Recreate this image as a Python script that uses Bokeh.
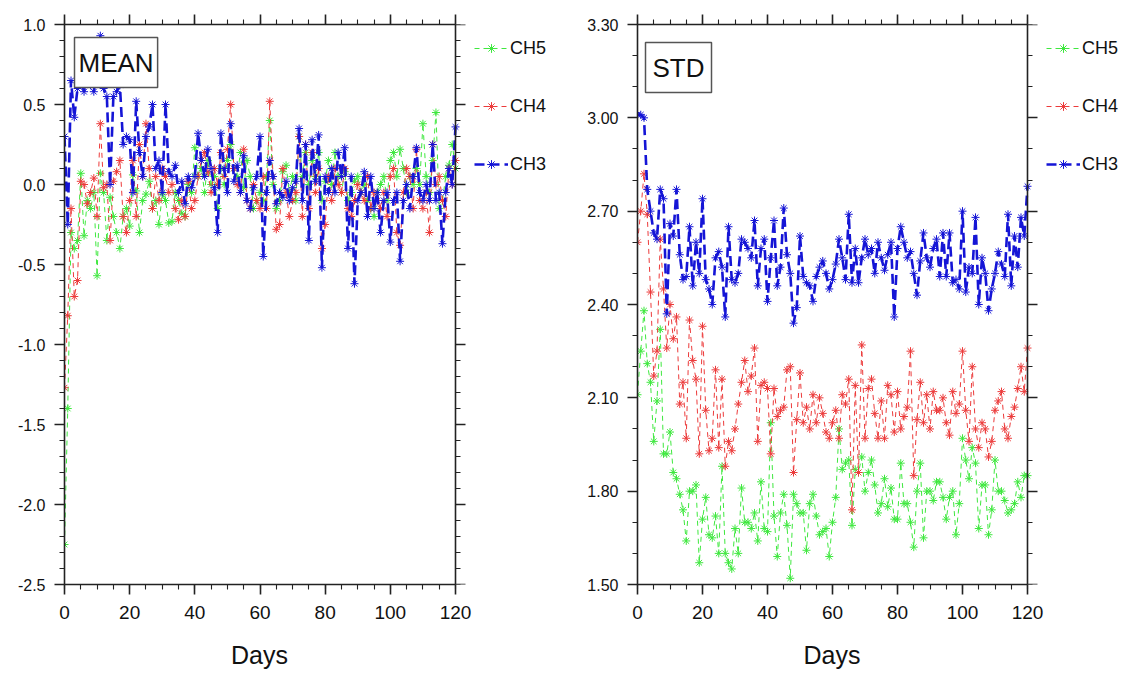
from bokeh.plotting import figure
from bokeh.models import (LinearAxis, SingleIntervalTicker, NumeralTickFormatter,
                          Legend, LegendItem, Label, Range1d, CustomLabelingPolicy, Title)
from bokeh.layouts import row
from bokeh.embed import file_html
from bokeh.resources import INLINE

days = list(range(121))

mean_ch5 = [-2.25, -1.40, -0.30, -0.40, -0.35, 0.07, -0.32, -0.10, -0.15, -0.05, -0.57,
            0.07, -0.05, -0.35, -0.08, -0.20, -0.30, -0.40, -0.20, -0.15, -0.26,
            0.06, -0.04, -0.30, -0.10, -0.06, 0.02, -0.15, -0.10, -0.25, -0.06,
            -0.10, -0.24, -0.23, -0.05, -0.10, -0.18, -0.20, 0.00, -0.05, 0.23,
            0.05, 0.10, -0.05, 0.15, 0.00, 0.05, -0.15, 0.10, 0.00, 0.15,
            0.25, 0.10, 0.05, 0.20, -0.02, 0.15, 0.05, -0.15, -0.10, -0.05,
            -0.10, 0.05, 0.40, 0.00, -0.15, -0.10, 0.08, 0.12, -0.05, 0.05,
            -0.10, 0.30, 0.05, 0.20, 0.00, 0.15, 0.05, 0.20, -0.10, 0.02,
            0.15, 0.00, 0.20, 0.05, -0.05, 0.08, -0.10, -0.05, 0.02, 0.05,
            -0.05, 0.00, -0.10, -0.15, -0.20, -0.05, 0.00, 0.05, -0.10, 0.15,
            0.20, 0.05, 0.22, 0.10, -0.05, 0.05, 0.00, 0.10, 0.00, 0.38,
            0.05, -0.05, 0.15, 0.45, -0.15, -0.10, 0.05, 0.12, 0.25, 0.10]

mean_ch4 = [-1.27, -0.82, -0.15, -0.70, -0.60, 0.02, 0.00, -0.12, -0.05, 0.04, -0.20,
            0.38, -0.02, 0.00, -0.35, 0.02, 0.08, 0.15, -0.20, -0.30, -0.10,
            0.15, -0.20, 0.25, 0.05, 0.38, 0.10, -0.15, 0.05, -0.10, 0.10,
            0.05, -0.05, 0.00, -0.15, -0.22, -0.10, -0.20, 0.02, -0.15, -0.10,
            0.05, 0.15, 0.20, 0.08, -0.05, 0.10, 0.00, 0.20, 0.05, 0.22,
            0.50, 0.10, 0.00, -0.05, 0.22, -0.10, -0.15, 0.00, -0.10, -0.15,
            0.05, -0.15, 0.52, 0.05, -0.28, -0.25, 0.10, -0.05, -0.20, -0.10,
            -0.05, 0.30, -0.20, 0.25, -0.15, 0.20, -0.05, 0.10, -0.40, -0.25,
            0.05, -0.10, 0.10, 0.00, -0.05, 0.10, -0.15, -0.20, -0.10, 0.00,
            -0.05, -0.10, 0.05, -0.15, -0.05, -0.10, -0.15, -0.05, -0.20, 0.05,
            0.10, -0.30, -0.38, -0.05, 0.10, 0.05, -0.15, 0.22, -0.10, -0.15,
            -0.05, -0.30, 0.25, 0.00, 0.05, -0.10, -0.20, 0.10, 0.00, 0.15]

mean_ch3 = [0.30, -0.25, 0.65, 0.42, 0.60, 0.66, 0.58, 0.70, 0.62, 0.58, 0.74,
            0.93, 0.60, 0.55, 0.00, 0.55, 0.58, 0.62, 0.25, 0.30, 0.28,
            -0.05, 0.52, 0.20, 0.05, 0.30, 0.36, 0.50, 0.10, 0.15, -0.05,
            0.50, 0.08, 0.05, 0.12, -0.05, 0.02, -0.12, 0.05, -0.02, 0.05,
            0.32, 0.15, 0.05, 0.22, 0.10, -0.02, -0.30, 0.32, 0.10, -0.05,
            0.38, 0.02, 0.12, -0.05, 0.18, -0.10, -0.15, -0.02, 0.05, 0.30,
            -0.45, -0.05, 0.15, 0.05, -0.12, -0.05, -0.08, 0.02, -0.10, -0.02,
            0.02, 0.35, -0.10, 0.25, -0.35, 0.28, 0.02, 0.31, -0.52, 0.05,
            -0.05, 0.10, -0.05, 0.20, 0.05, 0.23, -0.40, 0.05, -0.62, -0.10,
            -0.05, 0.08, -0.20, 0.05, -0.15, -0.05, -0.30, -0.10, -0.05, -0.36,
            -0.10, -0.05, -0.48, -0.10, 0.00, -0.15, 0.05, 0.23, -0.05, -0.10,
            0.00, -0.10, 0.25, -0.10, -0.05, -0.37, -0.05, 0.10, 0.00, 0.36]

std_ch5 = [2.11, 2.25, 2.38, 2.21, 2.15, 1.96, 2.09, 2.32, 1.92, 1.92, 1.99,
           1.86, 1.84, 1.79, 1.74, 1.64, 1.80, 1.80, 1.82, 1.57, 1.71,
           1.78, 1.66, 1.65, 1.72, 1.60, 1.88, 1.60, 1.57, 1.55, 1.68,
           1.60, 1.81, 1.70, 1.70, 1.68, 1.73, 1.64, 1.83, 1.68, 1.67,
           2.02, 1.72, 1.59, 1.73, 1.79, 1.69, 1.52, 1.79, 1.76, 1.73,
           1.73, 1.61, 1.76, 1.79, 1.72, 1.66, 1.67, 1.68, 1.59, 1.70,
           1.78, 2.00, 1.87, 1.89, 1.90, 1.69, 1.87, 1.86, 1.91, 1.80,
           1.86, 1.90, 1.82, 1.73, 1.76, 1.84, 1.75, 1.81, 1.71, 1.71,
           1.89, 1.76, 1.76, 1.70, 1.62, 1.80, 1.89, 1.65, 1.80, 1.80,
           1.77, 1.83, 1.83, 1.78, 1.71, 1.78, 1.80, 1.66, 1.76, 1.97,
           1.90, 1.84, 1.94, 1.89, 1.68, 1.82, 1.82, 1.66, 1.74, 1.90,
           1.80, 1.80, 1.77, 1.73, 1.74, 1.76, 1.83, 1.78, 1.85, 1.85]

std_ch4 = [2.60, 2.70, 2.82, 2.69, 2.44, 2.17, 2.25, 2.61, 2.45, 2.26, 2.40,
           2.29, 2.36, 2.08, 2.15, 1.97, 2.35, 2.22, 2.16, 1.92, 2.33,
           2.06, 1.93, 1.97, 2.19, 1.94, 2.16, 1.88, 1.96, 1.93, 2.00,
           2.08, 2.15, 2.22, 2.12, 2.17, 2.26, 1.96, 2.14, 2.15, 2.13,
           1.92, 2.13, 2.04, 2.06, 2.07, 2.19, 2.20, 1.86, 2.03, 2.18,
           2.02, 2.07, 2.00, 2.11, 2.02, 2.10, 2.05, 1.99, 1.97, 2.02,
           2.06, 1.97, 2.11, 2.08, 2.16, 1.74, 2.14, 1.86, 2.27, 1.97,
           2.13, 2.16, 2.05, 1.97, 2.09, 1.97, 2.14, 2.11, 1.99, 2.12,
           2.00, 2.04, 2.07, 2.25, 1.85, 2.03, 2.15, 2.02, 2.11, 2.00,
           2.12, 2.06, 2.06, 2.10, 2.02, 1.98, 2.12, 2.05, 2.08, 2.25,
           2.06, 1.96, 2.20, 2.00, 1.94, 2.02, 2.00, 1.91, 1.96, 2.06,
           2.09, 2.12, 2.00, 1.97, 2.04, 2.07, 2.13, 2.20, 2.12, 2.26]

std_ch3 = [3.01, 3.01, 3.00, 2.77, 2.70, 2.63, 2.61, 2.77, 2.74, 2.37, 2.66,
           2.62, 2.77, 2.56, 2.48, 2.49, 2.65, 2.46, 2.60, 2.50, 2.74,
           2.48, 2.45, 2.40, 2.55, 2.57, 2.52, 2.36, 2.65, 2.48, 2.47,
           2.50, 2.61, 2.60, 2.58, 2.55, 2.67, 2.46, 2.58, 2.61, 2.41,
           2.55, 2.67, 2.46, 2.52, 2.71, 2.56, 2.50, 2.34, 2.39, 2.62,
           2.49, 2.47, 2.46, 2.41, 2.49, 2.52, 2.54, 2.50, 2.45, 2.48,
           2.53, 2.61, 2.55, 2.48, 2.69, 2.47, 2.58, 2.47, 2.55, 2.61,
           2.56, 2.58, 2.50, 2.60, 2.55, 2.51, 2.56, 2.60, 2.36, 2.58,
           2.65, 2.60, 2.55, 2.57, 2.50, 2.43, 2.54, 2.63, 2.55, 2.52,
           2.58, 2.61, 2.49, 2.63, 2.49, 2.63, 2.47, 2.48, 2.45, 2.70,
           2.44, 2.52, 2.50, 2.68, 2.40, 2.55, 2.50, 2.38, 2.45, 2.50,
           2.57, 2.53, 2.49, 2.69, 2.46, 2.62, 2.52, 2.68, 2.62, 2.78]

series_names = ["CH5", "CH4", "CH3"]
x_label = "Days"
X_MIN, X_MAX = 0, 120

FONT = "Liberation Sans"
AX = "#222222"
COLORS = {"CH5": "#3fe83f", "CH4": "#ec3b3b", "CH3": "#1515d6"}
DASH = {"CH5": "5 4", "CH4": "5 4", "CH3": "10 5"}
WIDTH = {"CH5": 1.0, "CH4": 1.0, "CH3": 2.6}

FIG_H = 686
FRAME_H = 560
TOP = 24


def hide_labels(ax):
    ax.major_label_standoff = 0
    ax.major_label_text_font_size = "0px"
    ax.major_label_policy = CustomLabelingPolicy(code="""
        for (let i = 0; i < indices.size; i++) { indices.unset(i) }
        return indices
    """)


def style_axis(ax, interval, minor, labels=True, fmt=None, font_size="16px",
               inward=False, standoff=9):
    ax.ticker = SingleIntervalTicker(interval=interval, num_minor_ticks=minor)
    ax.axis_line_color = AX
    ax.axis_line_width = 1.6
    ax.major_tick_line_color = AX
    ax.major_tick_line_width = 1.6
    ax.minor_tick_line_color = AX
    ax.minor_tick_line_width = 1.1
    if inward:
        ax.major_tick_in, ax.major_tick_out = 10, 0
        ax.minor_tick_in, ax.minor_tick_out = 5, 0
    else:
        ax.major_tick_in, ax.major_tick_out = 0, 10
        ax.minor_tick_in, ax.minor_tick_out = 0, 5
    if fmt is not None:
        ax.formatter = NumeralTickFormatter(format=fmt)
    if labels:
        ax.major_label_text_font = FONT
        ax.major_label_text_font_size = font_size
        ax.major_label_text_color = "#111111"
        ax.major_label_standoff = standoff
    else:
        hide_labels(ax)


def make_panel(title, yr, yint, yminor, yfmt, data, width, plot_w, ml, tx, ty, tpad):
    frame_w = width - ml
    x_end = X_MAX * frame_w / plot_w   # extra room on the right for the legend
    p = figure(width=width, height=FIG_H,
               x_range=Range1d(X_MIN, x_end), y_range=Range1d(*yr),
               x_axis_type=None, y_axis_type=None,
               output_backend="svg", toolbar_location=None,
               min_border_left=ml, min_border_right=0,
               min_border_top=TOP, min_border_bottom=FIG_H - TOP - FRAME_H)
    p.outline_line_color = None
    p.background_fill_color = "white"

    bx = LinearAxis(bounds=(X_MIN, X_MAX))
    style_axis(bx, 20, 4, True, "0", "19px", standoff=11)
    p.add_layout(bx, "below")

    xt = Title(text=x_label, align="left", offset=plot_w / 2 - 29,
               text_font=FONT, text_font_size="25px", text_font_style="normal",
               text_color="#111111", standoff=34)
    p.add_layout(xt, "below")

    tx_ax = LinearAxis(bounds=(X_MIN, X_MAX))
    style_axis(tx_ax, 20, 4, False)
    p.add_layout(tx_ax, "above")

    ly = LinearAxis()
    style_axis(ly, yint, yminor, True, yfmt, "16px")
    p.add_layout(ly, "left")

    ry = LinearAxis(fixed_location=X_MAX)
    style_axis(ry, yint, yminor, False, inward=True)
    p.add_layout(ry, "left")

    items = []
    for name in series_names:
        vals = data[name]
        ln = p.line(days, vals, line_color=COLORS[name], line_width=WIDTH[name],
                    line_dash=DASH[name])
        sc = p.scatter(days, vals, marker="asterisk", size=8,
                       line_color=COLORS[name], line_width=1.0)
        items.append(LegendItem(label=name, renderers=[ln, sc]))

    leg_h = 2 * 10 + 3 * 22 + 2 * 36
    legend = Legend(items=items, location=(plot_w + 19, FRAME_H + 7 - leg_h),
                    orientation="vertical")
    legend.border_line_color = None
    legend.background_fill_alpha = 0
    legend.margin = 0
    legend.padding = 10
    legend.spacing = 36
    legend.glyph_width = 34
    legend.glyph_height = 22
    legend.label_height = 22
    legend.label_standoff = 2
    legend.label_text_font = FONT
    legend.label_text_font_size = "18px"
    legend.label_text_color = "#111111"
    p.add_layout(legend)

    lab = Label(x=tx, y=FRAME_H - ty, x_units="screen", y_units="screen", text=title,
                text_font=FONT, text_font_size="26px", text_color="#111111",
                text_align="left", text_baseline="top",
                border_line_color="#555555", border_line_width=1.5,
                background_fill_color="white",
                padding=dict(left=tpad, right=tpad, top=10, bottom=10))
    p.add_layout(lab)
    return p


p1 = make_panel("MEAN", (-2.5, 1.0), 0.5, 5, "0.0",
                {"CH5": mean_ch5, "CH4": mean_ch4, "CH3": mean_ch3},
                577, 391, 64, 10, 13, 4)
p2 = make_panel("STD", (1.5, 3.3), 0.3, 3, "0.00",
                {"CH5": std_ch5, "CH4": std_ch4, "CH3": std_ch3},
                545, 390, 60, 8, 18, 7)

layout = row(p1, p2)
open("out.html", "w").write(file_html(layout, INLINE))
